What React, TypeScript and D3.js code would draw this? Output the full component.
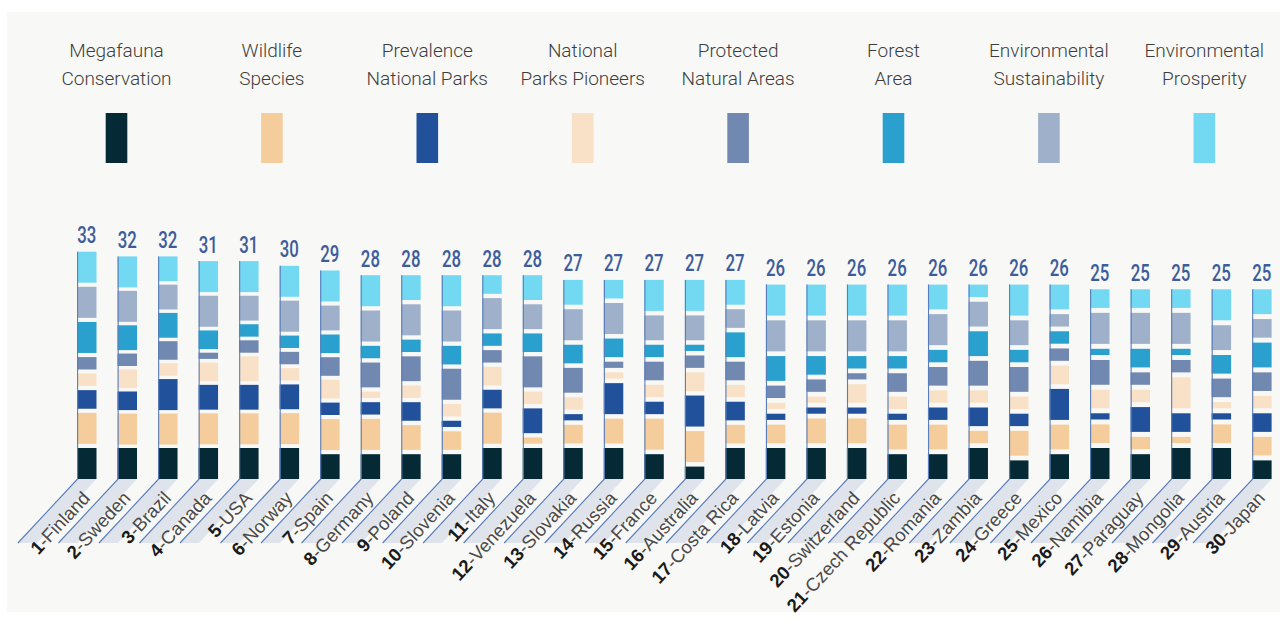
import React from "react";
import * as d3 from "d3";

const countries = ["Finland","Sweden","Brazil","Canada","USA","Norway","Spain","Germany","Poland","Slovenia","Italy","Venezuela","Slovakia","Russia","France","Australia","Costa Rica","Latvia","Estonia","Switzerland","Czech Republic","Romania","Zambia","Greece","Mexico","Namibia","Paraguay","Mongolia","Austria","Japan"];
const totals = [33,32,32,31,31,30,29,28,28,28,28,28,27,27,27,27,27,26,26,26,26,26,26,26,26,25,25,25,25,25];

const megafauna      = [5,5,5,5,5,5,4,4,4,4,5,5,5,5,4,2,5,5,5,5,4,4,5,3,4,5,4,5,5,3];
const wildlife       = [5,5,5,5,5,5,5,5,4,3,5,1,3,4,5,5,3,3,4,4,4,4,2,4,4,3,2,1,3,3];
const prevalence     = [3,3,5,4,4,4,2,2,3,1,3,4,1,5,2,5,3,1,1,1,1,2,3,2,5,1,4,3,1,3];
const pioneers       = [2,3,2,3,4,2,3,1,2,2,3,2,2,1,2,3,2,1,1,3,2,2,2,2,3,3,2,5,1,2];
const protectedAreas = [2,2,3,1,2,2,3,4,4,5,2,5,4,1,3,2,3,2,2,1,3,3,4,4,2,4,2,2,3,3];
const forest         = [5,4,4,3,2,2,3,2,2,3,2,3,3,3,2,1,4,4,3,2,2,2,4,2,2,1,3,1,3,4];
const sustainability = [5,5,4,5,4,5,4,5,5,5,5,4,5,5,4,4,3,5,5,5,5,5,4,4,2,5,5,5,4,3];
const prosperity     = [5,5,4,5,5,5,5,5,4,5,3,4,4,3,5,5,4,5,5,5,5,4,2,5,4,3,3,3,5,4];

const seriesNames = [
  ["Megafauna", "Conservation"],
  ["Wildlife", "Species"],
  ["Prevalence", "National Parks"],
  ["National", "Parks Pioneers"],
  ["Protected", "Natural Areas"],
  ["Forest", "Area"],
  ["Environmental", "Sustainability"],
  ["Environmental", "Prosperity"],
];
const seriesColors = ["#052a35","#f5cd9c","#22519b","#f8e1c6","#7188b0","#2aa0cf","#9fb0ca","#73d9f3"];
const seriesValues = [megafauna, wildlife, prevalence, pioneers, protectedAreas, forest, sustainability, prosperity];

export default function App() {
  const W = 1287, H = 621;
  const bottom = 479;
  const x = d3.scaleBand<string>().domain(countries).range([77, 1271.6]).paddingInner(0.519).paddingOuter(0);
  const yTop = d3.scaleLinear().domain([25, 33]).range([289.3, 251.7]);
  const segH = d3.scaleLinear().domain([0, 5]).range([0, 31]);
  const legendX = d3.scalePoint<number>().domain(d3.range(8)).range([116.5, 1204.3]);
  const bw = x.bandwidth();
  const angle = 47;
  const bandBottom = 543;
  const dxBand = (bandBottom - bottom) / Math.tan((angle * Math.PI) / 180);

  return (
    <svg width={W} height={H} style={{ position: "absolute", left: 0, top: 0, background: "#fff" }}>
      <rect x={7} y={12} width={1273} height={600} fill="#f8f8f6" />
      {seriesNames.map((lines, i) => {
        const cx = legendX(i)!;
        return (
          <g key={i}>
            <text x={cx} y={56.7} textAnchor="middle" fontFamily="Roboto, 'Noto Sans', sans-serif" fontWeight={300} fontSize={19} fill="#3e3e3e">{lines[0]}</text>
            <text x={cx} y={85} textAnchor="middle" fontFamily="Roboto, 'Noto Sans', sans-serif" fontWeight={300} fontSize={19} fill="#3e3e3e">{lines[1]}</text>
            <rect x={cx - 10.8} y={113} width={21.6} height={50} fill={seriesColors[i]} />
          </g>
        );
      })}
      {countries.map((c, j) => {
        const x0 = x(c)!;
        const top = yTop(totals[j]);
        const sum = d3.sum(seriesValues, (s) => s[j]);
        const gap = (bottom - top - segH(sum)) / 7;
        let yCur = bottom;
        const rects = seriesValues.map((s, k) => {
          const h = segH(s[j]);
          const r = <rect key={k} x={x0} y={yCur - h} width={bw} height={h} fill={seriesColors[k]} />;
          yCur -= h + gap;
          return r;
        });
        const band = [
          [x0, bottom], [x0 + bw, bottom], [x0 + bw - dxBand, bandBottom], [x0 - dxBand, bandBottom],
        ].map((p) => p.join(",")).join(" ");
        return (
          <g key={c}>
            <polygon points={band} fill="#dfe4ec" />
            {rects}
            <path d={`M${x0 + 0.6},${top} L${x0 + 0.6},${bottom} L${x0 + 0.6 - dxBand},${bandBottom}`} fill="none" stroke="#5a7dbb" strokeWidth={1.1} />
            <text transform={`translate(${x0 + bw / 2},${top - 8.5}) scale(0.7,1)`} textAnchor="middle" fontFamily="Roboto, sans-serif" fontWeight={500} fontSize={24} fill="#3d5c9c">{totals[j]}</text>
            <text transform={`translate(${x0 + 14},${bottom + 20}) rotate(-${angle})`} textAnchor="end" fontFamily="'Liberation Sans', Arial, sans-serif" fontSize={18.5}>
              <tspan fontWeight="bold" fill="#1a1a1a">{j + 1}</tspan>
              <tspan fill="#4a4a4a">-{c}</tspan>
            </text>
          </g>
        );
      })}
    </svg>
  );
}
